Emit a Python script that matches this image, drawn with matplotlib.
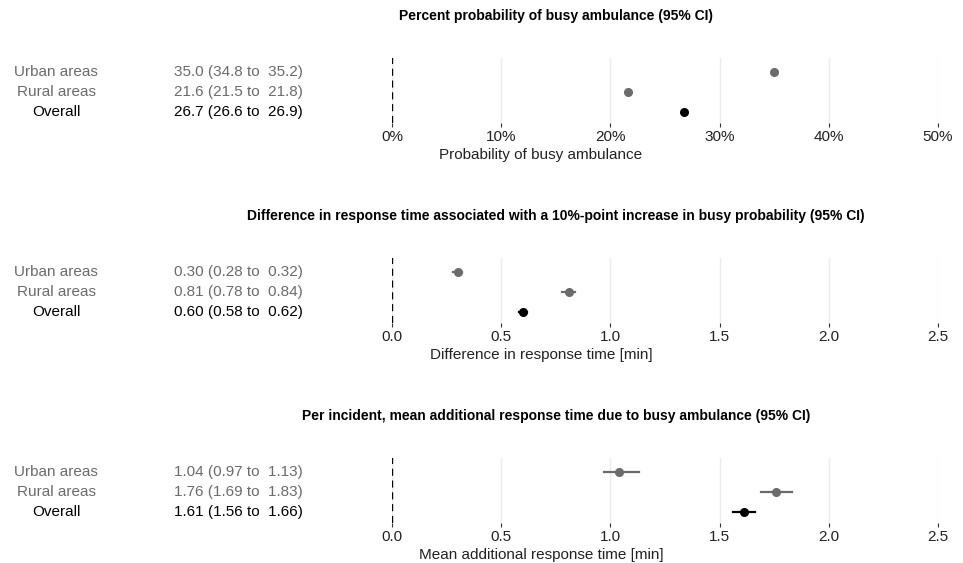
import matplotlib.pyplot as plt
from matplotlib.transforms import blended_transform_factory
from matplotlib.ticker import FuncFormatter

# Dados
grupos = ["Urban areas", "Rural areas", "Overall"]
cores = ["#6b6b6b", "#6b6b6b", "#000000"]

titulos = [
    "Percent probability of busy ambulance (95% CI)",
    "Difference in response time associated with a 10%-point increase in busy probability (95% CI)",
    "Per incident, mean additional response time due to busy ambulance (95% CI)",
]
rotulos_x = [
    "Probability of busy ambulance",
    "Difference in response time [min]",
    "Mean additional response time [min]",
]

prob_est = [0.350, 0.216, 0.267]
prob_low = [0.348, 0.215, 0.266]
prob_high = [0.352, 0.218, 0.269]
prob_txt = ["35.0 (34.8 to  35.2)", "21.6 (21.5 to  21.8)", "26.7 (26.6 to  26.9)"]

dif_est = [0.30, 0.81, 0.60]
dif_low = [0.28, 0.78, 0.58]
dif_high = [0.32, 0.84, 0.62]
dif_txt = ["0.30 (0.28 to  0.32)", "0.81 (0.78 to  0.84)", "0.60 (0.58 to  0.62)"]

add_est = [1.04, 1.76, 1.61]
add_low = [0.97, 1.69, 1.56]
add_high = [1.13, 1.83, 1.66]
add_txt = ["1.04 (0.97 to  1.13)", "1.76 (1.69 to  1.83)", "1.61 (1.56 to  1.66)"]

paineis = [
    (prob_est, prob_low, prob_high, prob_txt, [0, 0.1, 0.2, 0.3, 0.4, 0.5], 0.5, True),
    (dif_est, dif_low, dif_high, dif_txt, [0, 0.5, 1.0, 1.5, 2.0, 2.5], 2.5, False),
    (add_est, add_low, add_high, add_txt, [0, 0.5, 1.0, 1.5, 2.0, 2.5], 2.5, False),
]

W, H = 963, 563
fig = plt.figure(figsize=(W / 100, H / 100), dpi=100)
plt.rcParams["font.family"] = "Liberation Sans"

topos = [58, 258, 458]      # topo do eixo em pixels
altura = 65
x0, x1 = 392, 938
posicoes_y = [2, 1, 0]

for i, (est, low, high, txt, ticks, xmax, pct) in enumerate(paineis):
    topo = topos[i]
    ax = fig.add_axes([x0 / W, 1 - (topo + altura) / H, (x1 - x0) / W, altura / H])
    ax.set_xlim(0, xmax)
    ax.set_ylim(-0.55, 2.7)
    for s in ax.spines.values():
        s.set_visible(False)
    ax.set_yticks([])
    ax.set_xticks(ticks)
    ax.grid(axis="x", color="#ebebeb", linewidth=1)
    ax.set_axisbelow(True)
    ax.tick_params(axis="x", length=3, color="#333333", labelsize=11, pad=2, labelcolor="#222222")
    if pct:
        ax.xaxis.set_major_formatter(FuncFormatter(lambda v, p: f"{v * 100:.0f}%"))
    else:
        ax.xaxis.set_major_formatter(FuncFormatter(lambda v, p: f"{v:.1f}"))
    ax.axvline(0, color="black", linestyle=(0, (3, 2)), linewidth=1.7)

    for j in range(3):
        y = posicoes_y[j]
        ax.plot([low[j], high[j]], [y, y], color=cores[j], linewidth=1.6, clip_on=False)
        ax.plot(est[j], y, "o", color=cores[j], markersize=5.5, clip_on=False)

    # rótulo do eixo x
    fig.text(541 / W, 1 - (155 + 200 * i) / H, rotulos_x[i], ha="center", va="center",
             fontsize=11, color="#222222")

    tr = blended_transform_factory(fig.transFigure, ax.transData)
    for j in range(3):
        y = posicoes_y[j]
        ax.text(56 / W, y, grupos[j], transform=tr, ha="center", va="center",
                fontsize=11, color=cores[j])
        ax.text(174 / W, y, txt[j], transform=tr, ha="left", va="center",
                fontsize=11, color=cores[j])

    fig.text(556 / W, 1 - (16 + 200 * i) / H, titulos[i], ha="center", va="center",
             fontsize=10, fontweight="bold")

fig.savefig("out.png", dpi=100, facecolor="white")
